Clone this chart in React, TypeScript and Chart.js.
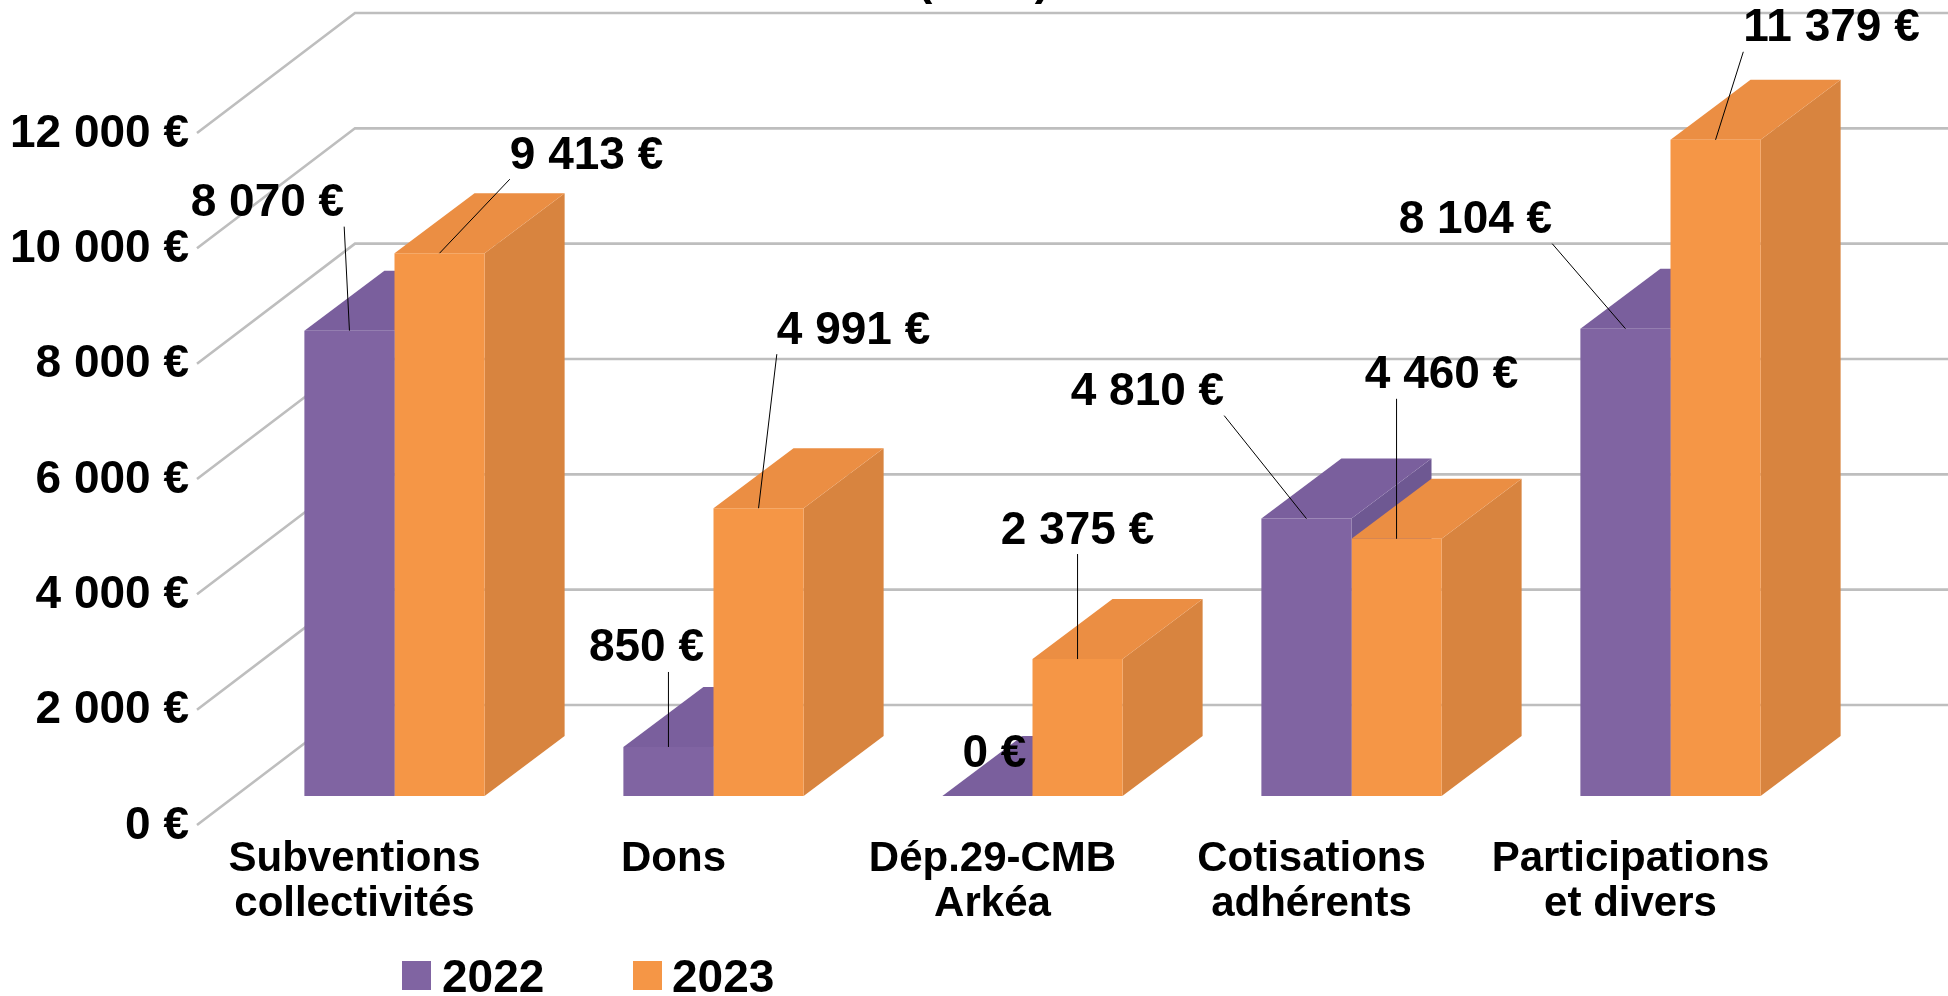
import React, { useEffect, useRef } from 'react';
import { Chart, registerables } from 'chart.js';

Chart.register(...registerables);

// ---------- data ----------
const categories: string[][] = [
  ['Subventions', 'collectivités'],
  ['Dons'],
  ['Dép.29-CMB', 'Arkéa'],
  ['Cotisations', 'adhérents'],
  ['Participations', 'et divers'],
];
const seriesNames = ['2022', '2023'];
const values2022 = [8070, 850, 0, 4810, 8104];
const values2023 = [9413, 4991, 2375, 4460, 11379];
const yMin = 0;
const yMax = 12000;
const yStep = 2000;
const titleText = '(2023)';

// ---------- layout / style ----------
const FONT = '"Liberation Sans", Arial, Helvetica, sans-serif';
const FRONT = ['#8064A2', '#F59646'];
const TOP = ['#7A5F9D', '#EB8E43'];
const SIDE = ['#6E5892', '#D8843F'];
const GRID = '#BEBEBE';
const DEPTH = { dx: 80, dy: 60 };
const WALL = { frontDx: -38, frontDy: 29, backDx: 120, backDy: -91 };
// label centre offsets from the top-front centre of each bar [dataset][category]
const labelOffsets: number[][][] = [
  [[-82, -131], [-22, -102], [7, -46], [-159, -130], [-150, -112]],
  [[147, -101], [95, -181], [0, -132], [45, -167], [116, -115]],
];

const fmt = (n: number) =>
  String(n).replace(/\B(?=(\d{3})+(?!\d))/g, '\u00a0') + '\u00a0€';

const poly = (ctx: CanvasRenderingContext2D, pts: number[][], color: string) => {
  ctx.beginPath();
  ctx.moveTo(pts[0][0], pts[0][1]);
  for (let k = 1; k < pts.length; k++) ctx.lineTo(pts[k][0], pts[k][1]);
  ctx.closePath();
  ctx.fillStyle = color;
  ctx.fill();
};

const threeD = {
  id: 'threeD',
  beforeDatasetsDraw(chart: any) {
    const { ctx, chartArea } = chart;
    const y = chart.scales.y;
    ctx.save();
    // walls
    ctx.strokeStyle = GRID;
    ctx.lineWidth = 2.6;
    const fx = chartArea.left + WALL.frontDx;
    const bx = chartArea.left + WALL.backDx;
    const rx = chart.width + 5;
    y.ticks.forEach((t: any) => {
      const py = y.getPixelForValue(t.value);
      ctx.beginPath();
      ctx.moveTo(fx, py + WALL.frontDy);
      ctx.lineTo(bx, py + WALL.backDy);
      ctx.lineTo(rx, py + WALL.backDy);
      ctx.stroke();
    });
    // tops and sides of bars
    const n = chart.data.labels.length;
    for (let j = 0; j < n; j++) {
      chart.data.datasets.forEach((_ds: any, i: number) => {
        const bar = chart.getDatasetMeta(i).data[j];
        const { x, y: top, base, width } = bar.getProps(['x', 'y', 'base', 'width'], true);
        const l = x - width / 2;
        const r = x + width / 2;
        poly(ctx, [[r, base], [r, top], [r + DEPTH.dx, top - DEPTH.dy], [r + DEPTH.dx, base - DEPTH.dy]], SIDE[i]);
        poly(ctx, [[l, top], [r, top], [r + DEPTH.dx, top - DEPTH.dy], [l + DEPTH.dx, top - DEPTH.dy]], TOP[i]);
      });
    }
    ctx.restore();
  },
  afterDatasetsDraw(chart: any) {
    const { ctx } = chart;
    ctx.save();
    ctx.font = `bold 46px ${FONT}`;
    ctx.fillStyle = '#000';
    ctx.textBaseline = 'alphabetic';
    ctx.textAlign = 'center';
    chart.data.datasets.forEach((ds: any, i: number) => {
      const meta = chart.getDatasetMeta(i);
      meta.data.forEach((bar: any, j: number) => {
        const { x, y: top } = bar.getProps(['x', 'y'], true);
        const [ox, oy] = labelOffsets[i][j];
        const cx = x + ox;
        const cy = top + oy;
        const txt = fmt(ds.data[j]);
        ctx.fillText(txt, cx, cy + 16.5);
        const hw = ctx.measureText(txt).width / 2;
        const ly = cy + 27;
        if (top - ly > 30) {
          let lx = x;
          if (Math.abs(ox) > hw * 0.9) lx = ox > 0 ? cx - hw : cx + hw;
          ctx.beginPath();
          ctx.strokeStyle = '#000';
          ctx.lineWidth = 1;
          ctx.moveTo(lx, ly);
          ctx.lineTo(x, top);
          ctx.stroke();
        }
      });
    });
    // title (mostly above the visible area)
    ctx.fillText(titleText, 983.5, -6);
    // legend
    const legend = [
      { sq: 402, tx: 442 },
      { sq: 633, tx: 672 },
    ];
    ctx.textAlign = 'left';
    legend.forEach((it, i) => {
      ctx.fillStyle = FRONT[i];
      ctx.fillRect(it.sq, 961, 29, 29);
      ctx.fillStyle = '#000';
      ctx.fillText(seriesNames[i], it.tx, 992);
    });
    ctx.restore();
  },
};

export default function App() {
  const ref = useRef<HTMLCanvasElement | null>(null);
  useEffect(() => {
    document.body.style.margin = '0';
    const canvas = ref.current!;
    const chart = new Chart(canvas, {
      type: 'bar',
      data: {
        labels: categories as any,
        datasets: [
          { label: seriesNames[0], data: values2022, backgroundColor: FRONT[0], borderWidth: 0 },
          { label: seriesNames[1], data: values2023, backgroundColor: FRONT[1], borderWidth: 0 },
        ],
      },
      options: {
        responsive: false,
        devicePixelRatio: 1,
        animation: false,
        layout: { padding: { top: 104, right: 118, bottom: 0, left: 0 } },
        datasets: { bar: { categoryPercentage: 0.565, barPercentage: 1 } } as any,
        plugins: {
          legend: { display: false },
          tooltip: { enabled: false },
          title: { display: false },
        },
        scales: {
          x: {
            grid: { display: false, drawTicks: false },
            border: { display: false },
            ticks: {
              color: '#000',
              font: { family: FONT, size: 42, weight: 'bold', lineHeight: 1.07 },
              padding: 41,
              labelOffset: -40,
              maxRotation: 0,
              minRotation: 0,
              autoSkip: false,
            },
            afterFit: (s: any) => { s.height = 200; },
          },
          y: {
            min: yMin,
            max: yMax,
            grid: { display: false, drawTicks: false },
            border: { display: false },
            ticks: {
              stepSize: yStep,
              color: '#000',
              font: { family: FONT, size: 46, weight: 'bold' },
              padding: 46,
              labelOffset: 30,
              callback: (v: any) => fmt(Number(v)),
            },
            afterFit: (s: any) => { s.width = 235; },
          },
        },
      },
      plugins: [threeD],
    });
    return () => chart.destroy();
  }, []);
  return (
    <canvas
      ref={ref}
      width={1948}
      height={996}
      style={{ display: 'block', width: '1948px', height: '996px' }}
    />
  );
}
